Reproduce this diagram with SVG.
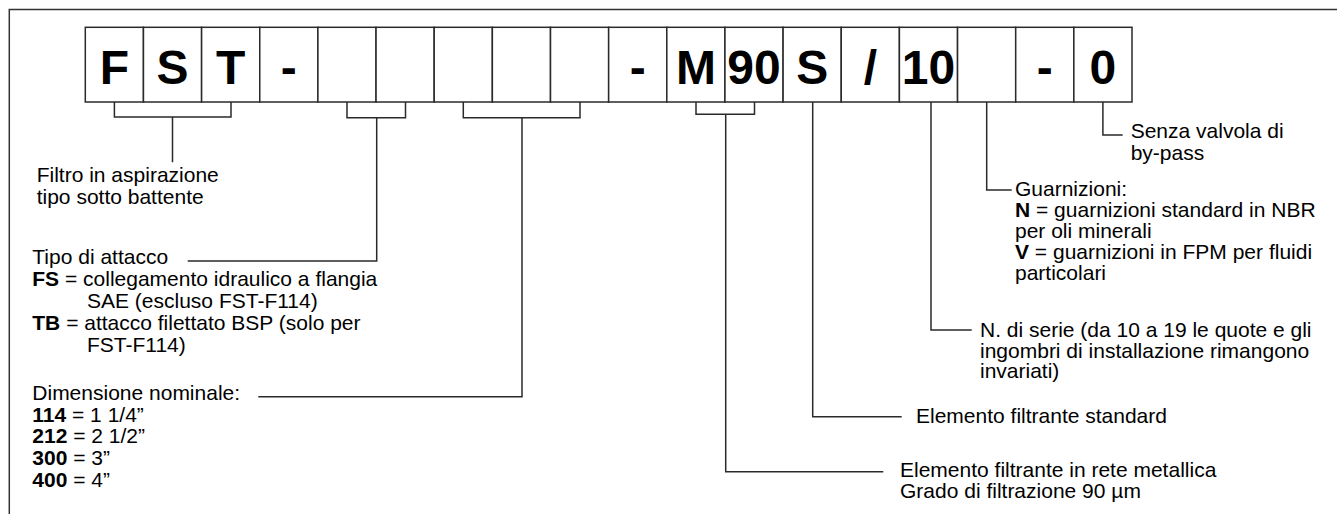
<svg xmlns="http://www.w3.org/2000/svg" width="1337" height="514" viewBox="0 0 1337 514">
<style>
.bx{fill:#fff;stroke:#2a2a2a;stroke-width:1.5}
.ln{fill:none;stroke:#2a2a2a;stroke-width:1.5}
.frame{fill:none;stroke:#333;stroke-width:1.5}
.big{font-family:"Liberation Sans",Arial,sans-serif;font-weight:bold;font-size:48px;fill:#000;text-anchor:middle}
.t{font-family:"Liberation Sans",Arial,sans-serif;font-size:21px;fill:#000}
.b{font-weight:bold}
</style>
<rect width="1337" height="514" fill="#fff"/>
<path class="frame" d="M9.3,514 V9.5 H1337"/>
<g id="code">
<rect class="bx" x="85.3" y="27.3" width="58.15" height="74.7"/>
<rect class="bx" x="143.45" y="27.3" width="58.15" height="74.7"/>
<rect class="bx" x="201.6" y="27.3" width="58.15" height="74.7"/>
<rect class="bx" x="259.75" y="27.3" width="58.15" height="74.7"/>
<rect class="bx" x="317.9" y="27.3" width="58.15" height="74.7"/>
<rect class="bx" x="376.05" y="27.3" width="58.15" height="74.7"/>
<rect class="bx" x="434.2" y="27.3" width="58.15" height="74.7"/>
<rect class="bx" x="492.35" y="27.3" width="58.15" height="74.7"/>
<rect class="bx" x="550.5" y="27.3" width="58.15" height="74.7"/>
<rect class="bx" x="608.65" y="27.3" width="58.15" height="74.7"/>
<rect class="bx" x="666.8" y="27.3" width="58.15" height="74.7"/>
<rect class="bx" x="724.95" y="27.3" width="58.15" height="74.7"/>
<rect class="bx" x="783.1" y="27.3" width="58.15" height="74.7"/>
<rect class="bx" x="841.25" y="27.3" width="58.15" height="74.7"/>
<rect class="bx" x="899.4" y="27.3" width="58.15" height="74.7"/>
<rect class="bx" x="957.55" y="27.3" width="58.15" height="74.7"/>
<rect class="bx" x="1015.7" y="27.3" width="58.15" height="74.7"/>
<rect class="bx" x="1073.85" y="27.3" width="58.15" height="74.7"/>
<text class="big" x="114.4" y="83.5">F</text>
<text class="big" x="172.5" y="83.5">S</text>
<text class="big" x="230.7" y="83.5">T</text>
<text class="big" x="288.8" y="83.5">-</text>
<text class="big" x="637.7" y="83.5">-</text>
<text class="big" x="695.9" y="83.5">M</text>
<text class="big" x="754.0" y="83.5">90</text>
<text class="big" x="812.2" y="83.5">S</text>
<text class="big" x="870.3" y="83.5">/</text>
<text class="big" x="928.5" y="83.5">10</text>
<text class="big" x="1044.8" y="83.5">-</text>
<text class="big" x="1102.9" y="83.5">0</text>
</g>
<g id="connectors">
<path class="ln" d="M114.4,102 V117 H231 V102 M172.5,117 V162.3"/>
<path class="ln" d="M347,102 V117.7 H405.5 V102 M376.7,117.7 V261 H187.7"/>
<path class="ln" d="M463.3,102 V117.7 H580 V102 M522,117.7 V396.7 H258.3"/>
<path class="ln" d="M696,102 V114.3 H754.5 V102 M725.7,114.3 V471.7 H883.3"/>
<path class="ln" d="M812.7,102 V416.7 H901.7"/>
<path class="ln" d="M931,102 V330 H971.7"/>
<path class="ln" d="M986.7,102 V190 H1011.7"/>
<path class="ln" d="M1102.9,102 V135 H1122.7"/>
</g>
<g id="n-filtro">
<text class="t" x="36.7" y="182">Filtro in aspirazione</text>
<text class="t" x="36.7" y="203.5">tipo sotto battente</text>
</g>
<g id="n-attacco">
<text class="t" x="32.3" y="264">Tipo di attacco</text>
<text class="t" x="32.3" y="286"><tspan class="b">FS</tspan> = collegamento idraulico a flangia</text>
<text class="t" x="87" y="308">SAE (escluso FST-F114)</text>
<text class="t" x="32.3" y="330"><tspan class="b">TB</tspan> = attacco filettato BSP (solo per</text>
<text class="t" x="87" y="352">FST-F114)</text>
</g>
<g id="n-dimensione">
<text class="t" x="32.3" y="400">Dimensione nominale:</text>
<text class="t" x="32.3" y="421.7"><tspan class="b">114</tspan> = 1 1/4”</text>
<text class="t" x="32.3" y="443.3"><tspan class="b">212</tspan> = 2 1/2”</text>
<text class="t" x="32.3" y="465"><tspan class="b">300</tspan> = 3”</text>
<text class="t" x="32.3" y="486.7"><tspan class="b">400</tspan> = 4”</text>
</g>
<g id="n-rete">
<text class="t" x="900" y="476.7">Elemento filtrante in rete metallica</text>
<text class="t" x="900" y="498.3">Grado di filtrazione 90 µm</text>
</g>
<g id="n-standard">
<text class="t" x="916" y="423.3">Elemento filtrante standard</text>
</g>
<g id="n-serie">
<text class="t" x="980" y="336.7">N. di serie (da 10 a 19 le quote e gli</text>
<text class="t" x="980" y="357.5">ingombri di installazione rimangono</text>
<text class="t" x="980" y="378.3">invariati)</text>
</g>
<g id="n-guarnizioni">
<text class="t" x="1015" y="196">Guarnizioni:</text>
<text class="t" x="1015" y="217"><tspan class="b">N</tspan> = guarnizioni standard in NBR</text>
<text class="t" x="1015" y="238">per oli minerali</text>
<text class="t" x="1015" y="259"><tspan class="b">V</tspan> = guarnizioni in FPM per fluidi</text>
<text class="t" x="1015" y="280">particolari</text>
</g>
<g id="n-valvola">
<text class="t" x="1130.7" y="138.3">Senza valvola di</text>
<text class="t" x="1130.7" y="160">by-pass</text>
</g>
</svg>
